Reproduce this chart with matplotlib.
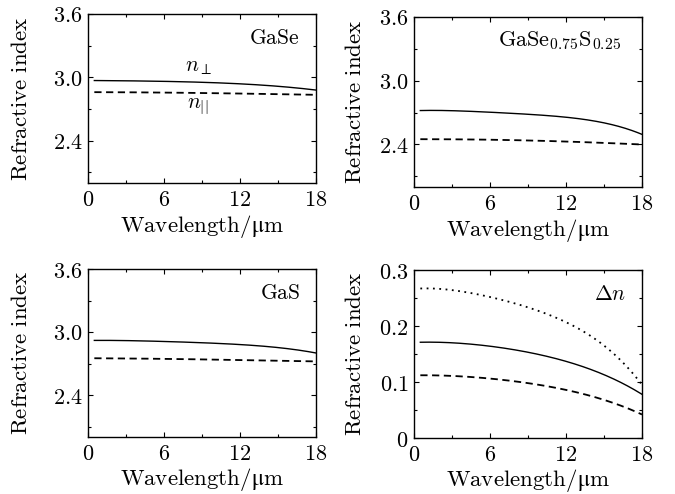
import matplotlib
matplotlib.use("Agg")
import matplotlib.pyplot as plt
from matplotlib.ticker import MultipleLocator, FixedLocator, FixedFormatter
import numpy as np

plt.rcParams['mathtext.fontset'] = 'cm'
plt.rcParams['font.family'] = 'serif'
plt.rcParams['font.serif'] = ['DejaVu Serif']

wl = [0.5, 3, 6, 9, 12, 15, 18]

gase_perp = [2.970, 2.968, 2.962, 2.953, 2.940, 2.915, 2.880]
gase_par = [2.860, 2.859, 2.856, 2.852, 2.847, 2.841, 2.835]

mix_perp = [2.720, 2.717, 2.705, 2.685, 2.655, 2.605, 2.495]
mix_par = [2.450, 2.449, 2.445, 2.438, 2.428, 2.415, 2.400]

gas_perp = [2.920, 2.918, 2.910, 2.898, 2.880, 2.852, 2.800]
gas_par = [2.750, 2.748, 2.744, 2.739, 2.733, 2.726, 2.720]

dn_mix = [0.267, 0.264, 0.252, 0.233, 0.207, 0.165, 0.095]
dn_gase = [0.171, 0.170, 0.164, 0.153, 0.137, 0.113, 0.078]
dn_gas = [0.112, 0.111, 0.106, 0.098, 0.086, 0.068, 0.042]

x_ticks = [0, 6, 12, 18]
ri_ticks = [2.4, 3.0, 3.6]
dn_ticks = [0, 0.1, 0.2, 0.3]

W, H = 675, 494
fig = plt.figure(figsize=(W / 100, H / 100), dpi=100)

def ax_at(l, t, r, b):
    return fig.add_axes([l / W, 1 - b / H, (r - l) / W, (b - t) / H])

axes = [ax_at(88, 14, 316, 183), ax_at(414, 17, 642, 187),
        ax_at(88, 269, 316, 437), ax_at(414, 270, 642, 438)]

fs_tick = 16
fs_lab = 16.5
fs_txt = 15.5

def smooth(x, y):
    xs = np.linspace(x[0], x[-1], 200)
    c = np.polyfit(x, y, 4)
    return xs, np.polyval(c, xs)

def style(ax, yticks, ylim, yminor, ylabels, ylab_x):
    ax.set_xlim(0, 18)
    ax.set_ylim(*ylim)
    ax.xaxis.set_major_locator(FixedLocator(x_ticks))
    ax.xaxis.set_major_formatter(FixedFormatter(['$%d$' % v for v in x_ticks]))
    ax.xaxis.set_minor_locator(MultipleLocator(3))
    ax.yaxis.set_major_locator(FixedLocator(yticks))
    ax.yaxis.set_major_formatter(FixedFormatter(ylabels))
    ax.yaxis.set_minor_locator(MultipleLocator(yminor))
    ax.tick_params(which='both', direction='in', top=True, right=True,
                   labelsize=fs_tick, width=0.8, pad=4)
    ax.tick_params(which='major', length=3.5)
    ax.tick_params(which='minor', length=2)
    for s in ax.spines.values():
        s.set_linewidth(1.0)
    ax.set_xlabel('$\\mathrm{Wavelength}/\\mathrm{\u03bcm}$', fontsize=fs_lab)
    ax.set_ylabel(r'$\mathrm{Refractive\ index}$', fontsize=fs_lab)
    ax.xaxis.set_label_coords(0.5, -0.175)
    ax.yaxis.set_label_coords(ylab_x, 0.5)

ri_labels = ['$%.1f$' % v for v in ri_ticks]

for ax, perp, par, yx in [(axes[0], gase_perp, gase_par, -0.245),
                          (axes[1], mix_perp, mix_par, -0.21),
                          (axes[2], gas_perp, gas_par, -0.245)]:
    ax.plot(*smooth(wl, perp), color='black', lw=1.0, ls='-')
    ax.plot(*smooth(wl, par), color='black', lw=1.3, ls=(0, (4, 2.5)))
    style(ax, ri_ticks, (2.0, 3.6), 0.3, ri_labels, yx)

style(axes[3], dn_ticks, (0, 0.3), 0.05, ['$0$', '$0.1$', '$0.2$', '$0.3$'], -0.21)
axes[3].plot(*smooth(wl, dn_mix), color='black', lw=1.3, ls=(0, (1, 2.5)))
axes[3].plot(*smooth(wl, dn_gase), color='black', lw=1.0, ls='-')
axes[3].plot(*smooth(wl, dn_gas), color='black', lw=1.3, ls=(0, (4, 2.5)))

axes[0].text(0.93, 0.86, r'$\mathrm{GaSe}$', transform=axes[0].transAxes,
             ha='right', va='center', fontsize=fs_txt)
axes[1].text(0.91, 0.86, r'$\mathrm{GaSe_{0.75}S_{0.25}}$', transform=axes[1].transAxes,
             ha='right', va='center', fontsize=fs_txt + 0.5)
axes[2].text(0.93, 0.86, r'$\mathrm{GaS}$', transform=axes[2].transAxes,
             ha='right', va='center', fontsize=fs_txt)
axes[3].text(0.93, 0.86, r'$\Delta n$', transform=axes[3].transAxes,
             ha='right', va='center', fontsize=fs_txt)

axes[0].text(8.7, 3.0, r'$n_{\perp}$', ha='center', va='bottom', fontsize=fs_txt)
axes[0].text(8.7, 2.84, r'$n_{||}$', ha='center', va='top', fontsize=fs_txt)

fig.savefig('out.png', dpi=100)
